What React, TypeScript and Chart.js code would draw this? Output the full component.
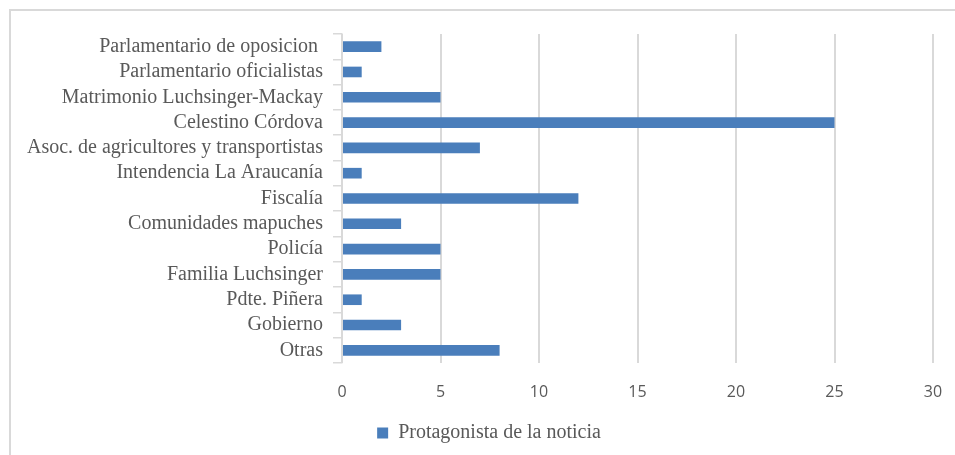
import React, { useEffect, useRef } from "react";
import { Chart, registerables } from "chart.js";

Chart.register(...registerables);

const categories = [
  "Parlamentario de oposicion ",
  "Parlamentario oficialistas",
  "Matrimonio Luchsinger-Mackay",
  "Celestino Córdova",
  "Asoc. de agricultores y transportistas",
  "Intendencia La Araucanía",
  "Fiscalía",
  "Comunidades mapuches",
  "Policía",
  "Familia Luchsinger",
  "Pdte. Piñera",
  "Gobierno",
  "Otras",
];
const values = [2, 1, 5, 25, 7, 1, 12, 3, 5, 5, 1, 3, 8];
const seriesName = "Protagonista de la noticia";
const xMin = 0;
const xMax = 30;
const xStep = 5;

const legendShift = {
  id: "legendShift",
  afterLayout(chart: any) {
    if (chart.legend) {
      chart.legend.left = 45;
    }
  },
};

export default function App() {
  const ref = useRef<HTMLCanvasElement | null>(null);
  useEffect(() => {
    if (!ref.current) return;
    const chart = new Chart(ref.current, {
      type: "bar",
      data: {
        labels: categories,
        datasets: [
          {
            label: seriesName,
            data: values,
            backgroundColor: "#4a7ebb",
            borderWidth: 0,
            categoryPercentage: 1,
            barPercentage: 0.42,
          },
        ],
      },
      plugins: [legendShift],
      options: {
        indexAxis: "y",
        animation: false,
        responsive: false,
        maintainAspectRatio: false,
        layout: { padding: { left: 0, right: 22, top: 34, bottom: 2 } },
        plugins: {
          tooltip: { enabled: false },
          legend: {
            position: "bottom",
            labels: {
              boxWidth: 11,
              boxHeight: 11,
              padding: 10,
              color: "#595959",
              font: { family: "'Liberation Serif', 'Times New Roman', serif", size: 20 },
            },
          },
        },
        scales: {
          x: {
            min: xMin,
            max: xMax,
            ticks: {
              stepSize: xStep,
              padding: 20,
              color: "#595959",
              font: { family: "'Open Sans', sans-serif", size: 16 },
            },
            grid: { color: "#d9d9d9", lineWidth: 2, drawTicks: false },
            border: { display: false },
            afterFit: (s: any) => {
              s.height = 50;
              s.paddingRight = 0;
              s.paddingLeft = 0;
            },
          },
          y: {
            ticks: {
              autoSkip: false,
              padding: 10,
              color: "#595959",
              font: { family: "'Liberation Serif', 'Times New Roman', serif", size: 20 },
            },
            grid: {
              offset: true,
              drawOnChartArea: false,
              drawTicks: true,
              tickLength: 9,
              color: "#d9d9d9",
              lineWidth: 1.5,
            },
            border: { display: true, color: "#d9d9d9", width: 1.5 },
            afterFit: (s: any) => {
              s.width = 342;
            },
          },
        },
      },
    });
    return () => chart.destroy();
  }, []);
  return (
    <div
      style={{
        position: "absolute",
        left: 0,
        top: 0,
        width: 955,
        height: 455,
        overflow: "hidden",
        background: "#fff",
      }}
    >
      <div
        style={{
          position: "absolute",
          left: 9,
          top: 9,
          width: 1000,
          height: 1000,
          border: "2px solid #d9d9d9",
        }}
      />
      <canvas ref={ref} width={955} height={455} style={{ position: "absolute", left: 0, top: 0 }} />
    </div>
  );
}
